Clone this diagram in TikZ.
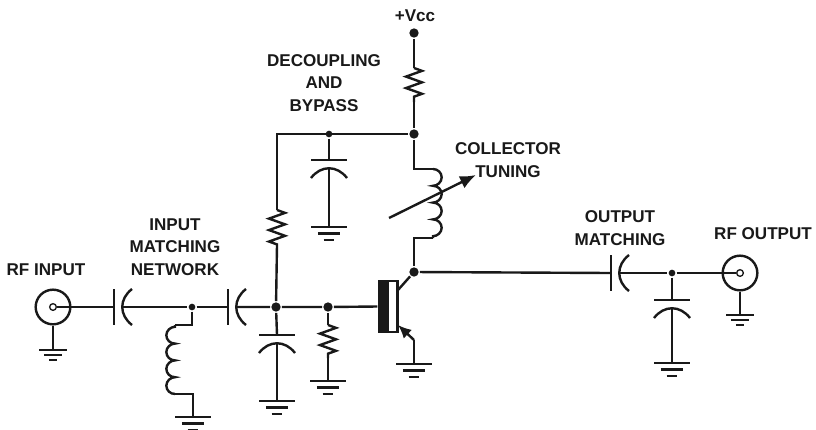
\documentclass[tikz,border=0pt]{standalone}
\usepackage{fontspec}
\setmainfont{Liberation Sans}
\usetikzlibrary{arrows.meta,decorations.pathmorphing}

\begin{document}
\begin{tikzpicture}[x=0.75pt,y=-0.75pt]
\tikzstyle{every path}=[line width=1.8pt, color=black!90]
\tikzstyle{label}=[font=\bfseries\fontsize{12.8}{16.7}\selectfont, align=center, inner sep=0pt]
\tikzstyle{dot}=[circle, fill, inner sep=0pt, minimum size=7pt]
\tikzstyle{smalldot}=[circle, fill, inner sep=0pt, minimum size=5pt]
\tikzstyle{jack}=[circle, draw, inner sep=0pt, minimum size=26pt]
\tikzstyle{pin}=[circle, draw, line width=1pt, inner sep=0pt, minimum size=5pt]
\tikzstyle{resistor}=[decorate, decoration={zigzag, amplitude=6pt, segment length=8.6pt}]
\tikzstyle{inductor}=[decorate, decoration={bumps, amplitude=6.5pt, segment length=25.2pt}]
\tikzset{
  gnd/.pic={
    \draw (-#1,0) -- (#1,0);
    \draw ({-.62*#1},{.36*#1}) -- ({.62*#1},{.36*#1});
    \draw ({-.3*#1},{.72*#1}) -- ({.3*#1},{.72*#1});
  },
  seriescap/.pic={
    \draw (0,-18) -- (0,18);
    \draw (18,-18) .. controls (5,-8) and (5,8) .. (18,18);
  },
  shuntcap/.pic={
    \draw (-18,0) -- (18,0);
    \draw (-18,18) .. controls (-8,5) and (8,5) .. (18,18);
  }
}
\useasboundingbox (0,0) rectangle (816,429);

% labels
\node [label] (VCC) at (415,16) {+Vcc};
\node [label] (DECOUPLE) at (324,83) {DECOUPLING\\AND\\BYPASS};
\node [label] (COLLECTOR) at (508,160) {COLLECTOR\\TUNING};
\node [label] (MATCHIN) at (175,247) {INPUT\\MATCHING\\NETWORK};
\node [label] (MATCHOUT) at (620,228) {OUTPUT\\MATCHING};
\node [label] (RFIN) at (46,270) {RF INPUT};
\node [label] (RFOUT) at (763,234) {RF OUTPUT};

% connectors
\node [jack] (JIN) at (53,307) {};
\node [pin] (PIN) at (53,307) {};
\node [jack] (JOUT) at (740,273) {};
\node [pin] (POUT) at (740,273) {};

% junctions
\node [dot] (SUPPLY) at (414,33) {};
\node [dot] (RAIL) at (414,134) {};
\node [smalldot] (RAILC) at (329,134) {};
\node [dot] (COLL) at (414,272) {};
\node [smalldot] (NODEA) at (192,307) {};
\node [dot] (NODEB) at (276,307) {};
\node [dot] (NODEC) at (328,307) {};
\node [smalldot] (NODED) at (672,273) {};

% transistor
\node [draw, fill=white, minimum width=13.5pt, minimum height=38pt, inner sep=0pt] (Q) at (388.5,306.5) {};
\node [fill, minimum width=7.5pt, minimum height=38pt, inner sep=0pt] (QBAR) at (383.5,306.5) {};
\coordinate (QC) at (398,290);
\coordinate (QE) at (398,325);
\coordinate (EGND) at (414,340);

% capacitors
\coordinate (C1A) at (114,307);
\coordinate (C1B) at (122,307);
\coordinate (C2A) at (228,307);
\coordinate (C2B) at (236,307);
\coordinate (C3A) at (611,273);
\coordinate (C3B) at (619,273);
\coordinate (C4A) at (329,160);
\coordinate (C4B) at (329,169);
\coordinate (C5A) at (277,335);
\coordinate (C5B) at (277,344);
\coordinate (C6A) at (672,300);
\coordinate (C6B) at (672,309);
\foreach \c in {C1A,C2A,C3A} \pic at (\c) {seriescap};
\foreach \c in {C4A,C5A,C6A} \pic at (\c) {shuntcap};

% grounds
\coordinate (G1) at (53,350);
\coordinate (G2) at (193,417);
\coordinate (G3) at (277,401);
\coordinate (G4) at (328,381);
\coordinate (G5) at (329,227);
\coordinate (G6) at (414,364);
\coordinate (G7) at (672,363);
\coordinate (G8) at (740,315);
\foreach \g in {G2,G3,G4,G5,G6,G7} \pic at (\g) {gnd=18};
\foreach \g in {G1,G8} \pic at (\g) {gnd=14};

% resistors and coils
\coordinate (R1T) at (414,68);
\coordinate (R1B) at (414,102);
\coordinate (R2T) at (277,210);
\coordinate (R2B) at (277,245);
\coordinate (R3T) at (328,325);
\coordinate (R3B) at (328,358);
\coordinate (L1T) at (175,325);
\coordinate (L1B) at (175,394);
\coordinate (L2T) at (433,169);
\coordinate (L2B) at (433,238);
\draw [resistor] (R1T) -- (R1B);
\draw [resistor] (R2T) -- (R2B);
\draw [resistor] (R3T) -- (R3B);
\draw [inductor] (L1B) -- (L1T);
\draw [inductor] (L2T) -- (L2B);

% wiring
\draw (PIN) -- (C1A);
\draw (C1B) -- (NODEA) -- (C2A);
\draw (C2B) -- (NODEB) -- (NODEC) -- (QBAR.west);
\draw (NODEA) |- (L1T);
\draw (L1B) -| (G2);
\draw (NODEB) -- (C5A);
\draw (C5B) -- (G3);
\draw (NODEC) -- (R3T);
\draw (R3B) -- (G4);
\draw (NODEB) -- (R2B);
\draw (R2T) |- (RAIL);
\draw (RAILC) -- (C4A);
\draw (C4B) -- (G5);
\draw (SUPPLY) -- (R1T);
\draw (R1B) -- (RAIL);
\draw (RAIL) |- (L2T);
\draw (L2B) -| (COLL);
\draw (QC) -- (COLL);
\draw (COLL) -- (C3A);
\draw (C3B) -- (NODED) -- (POUT);
\draw (NODED) -- (C6A);
\draw (C6B) -- (G7);
\draw [-{Latex[length=10pt,width=9pt]}] (EGND) -- (QE);
\draw (EGND) -- (G6);
\draw (JIN) -- (G1);
\draw (JOUT) -- (G8);
\coordinate (TUNEA) at (389,218);
\coordinate (TUNEB) at (476,175);
\draw [-{Latex[length=12pt,width=10pt]}] (TUNEA) -- (TUNEB);
\end{tikzpicture}
\end{document}
